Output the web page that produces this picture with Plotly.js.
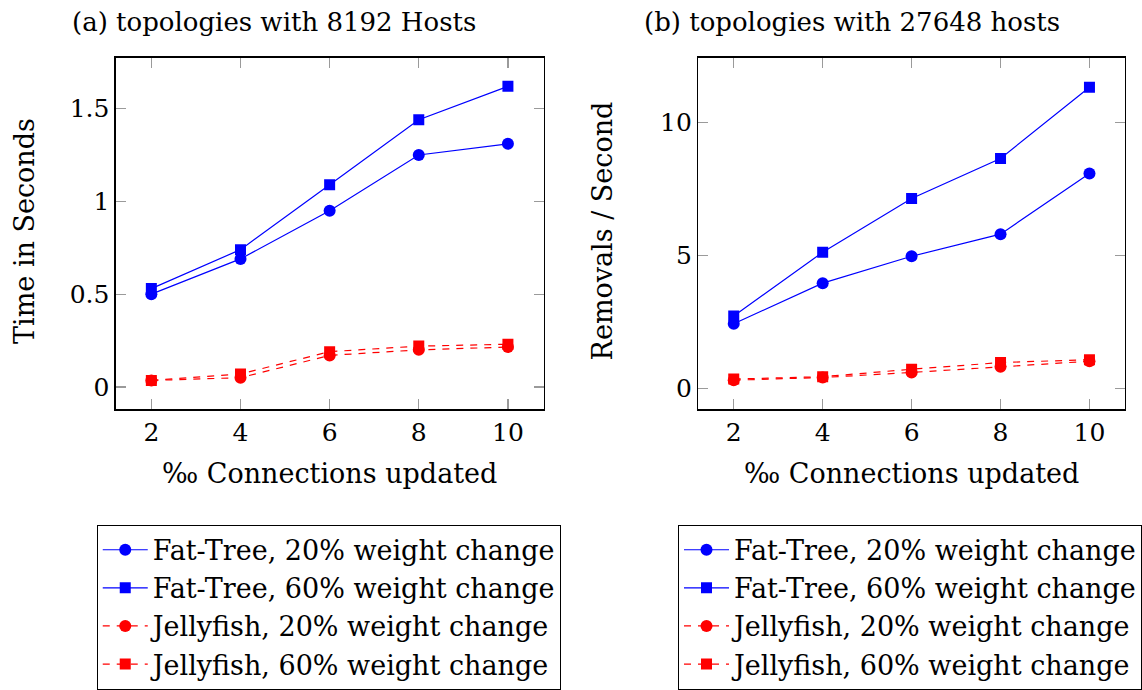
<!DOCTYPE html>
<html>
<head>
<meta charset="utf-8">
<script src="https://cdn.plot.ly/plotly-3.0.1.min.js"></script>
<style>
  html, body { margin: 0; padding: 0; background: #fff; }
  #chart { width: 1142px; height: 690px; }
</style>
</head>
<body>
<div id="chart"></div>
<script>
// Per-mille of connections updated
const connections = [2, 4, 6, 8, 10];

// (a) topologies with 8192 hosts: time in seconds
const fatTree20a = [0.50, 0.69, 0.95, 1.25, 1.31];
const fatTree60a = [0.53, 0.74, 1.09, 1.44, 1.62];
const jelly20a   = [0.035, 0.05, 0.17, 0.20, 0.215];
const jelly60a   = [0.035, 0.07, 0.19, 0.22, 0.23];

// (b) topologies with 27648 hosts: removals per second
const fatTree20b = [2.44, 3.96, 4.97, 5.80, 8.08];
const fatTree60b = [2.73, 5.12, 7.14, 8.64, 11.31];
const jelly20b   = [0.32, 0.42, 0.61, 0.82, 1.03];
const jelly60b   = [0.36, 0.45, 0.73, 0.98, 1.09];

const seriesNames = [
  'Fat-Tree, 20% weight change',
  'Fat-Tree, 60% weight change',
  'Jellyfish, 20% weight change',
  'Jellyfish, 60% weight change'
];
const xTicks = [2, 4, 6, 8, 10];

const FONT = 'DejaVu Serif, serif';
const W = 1142, H = 690;

const styles = [
  { color: '#0000ff', dash: 'solid', symbol: 'circle', size: 12 },
  { color: '#0000ff', dash: 'solid', symbol: 'square', size: 11 },
  { color: '#ff0000', dash: '7px,7px', symbol: 'circle', size: 12 },
  { color: '#ff0000', dash: '7px,7px', symbol: 'square', size: 11 }
];

function makeTraces(ys, xa, ya, legendId) {
  return ys.map((y, i) => ({
    type: 'scatter',
    mode: 'lines+markers',
    x: connections,
    y: y,
    xaxis: xa,
    yaxis: ya,
    name: seriesNames[i],
    legend: legendId,
    line: { color: styles[i].color, width: 1.2, dash: styles[i].dash },
    marker: { color: styles[i].color, symbol: styles[i].symbol, size: styles[i].size, line: { width: 0 } },
    hoverinfo: 'x+y+name'
  }));
}

const data = [].concat(
  makeTraces([fatTree20a, fatTree60a, jelly20a, jelly60a], 'x', 'y', 'legend'),
  makeTraces([fatTree20b, fatTree60b, jelly20b, jelly60b], 'x2', 'y2', 'legend2')
);

const px = v => v / W;
const py = v => 1 - v / H;

const axisCommon = {
  showline: true,
  linecolor: '#000',
  linewidth: 1.3,
  mirror: 'ticks',
  ticks: 'inside',
  ticklen: 10,
  tickwidth: 1.3,
  tickcolor: '#9a9a9a',
  showgrid: false,
  zeroline: false,
  tickfont: { family: FONT, size: 25, color: '#000' },
  fixedrange: true
};

const legendCommon = {
  xanchor: 'left',
  yanchor: 'top',
  bgcolor: '#fff',
  bordercolor: '#000',
  borderwidth: 1,
  font: { family: FONT, size: 27, color: '#000' },
  itemwidth: 45,
  tracegroupgap: 0
};

const layout = {
  width: W,
  height: H,
  margin: { l: 0, r: 0, t: 0, b: 0 },
  paper_bgcolor: '#fff',
  plot_bgcolor: '#fff',
  font: { family: FONT, color: '#000' },
  xaxis: Object.assign({}, axisCommon, {
    domain: [px(116), px(545)], range: [1.2, 10.8], tickvals: xTicks, anchor: 'y'
  }),
  yaxis: Object.assign({}, axisCommon, {
    domain: [py(411), py(58)], range: [-0.12, 1.774], tickvals: [0, 0.5, 1, 1.5], anchor: 'x'
  }),
  xaxis2: Object.assign({}, axisCommon, {
    domain: [px(700), px(1128)], range: [1.2, 10.8], tickvals: xTicks, anchor: 'y2'
  }),
  yaxis2: Object.assign({}, axisCommon, {
    domain: [py(411), py(58)], range: [-0.77, 12.42], tickvals: [0, 5, 10], anchor: 'x2'
  }),
  legend: Object.assign({}, legendCommon, { x: px(97), y: py(527) }),
  legend2: Object.assign({}, legendCommon, { x: px(680), y: py(527) }),
  annotations: [
    { text: '(a) topologies with 8192 Hosts', x: px(275), y: py(22), font: { family: FONT, size: 26, color: '#000' } },
    { text: '(b) topologies with 27648 hosts', x: px(854), y: py(22), font: { family: FONT, size: 26, color: '#000' } },
    { text: '‰ Connections updated', x: px(330), y: py(476) },
    { text: '‰ Connections updated', x: px(914), y: py(476) },
    { text: 'Time in Seconds', x: px(25), y: py(232), textangle: -90 },
    { text: 'Removals / Second', x: px(605), y: py(232), textangle: -90 }
  ].map(a => Object.assign({
    xref: 'paper', yref: 'paper', showarrow: false,
    xanchor: 'center', yanchor: 'middle',
    font: { family: FONT, size: 27, color: '#000' }
  }, a))
};

Plotly.newPlot('chart', data, layout, { displayModeBar: false, staticPlot: true });
</script>
</body>
</html>
